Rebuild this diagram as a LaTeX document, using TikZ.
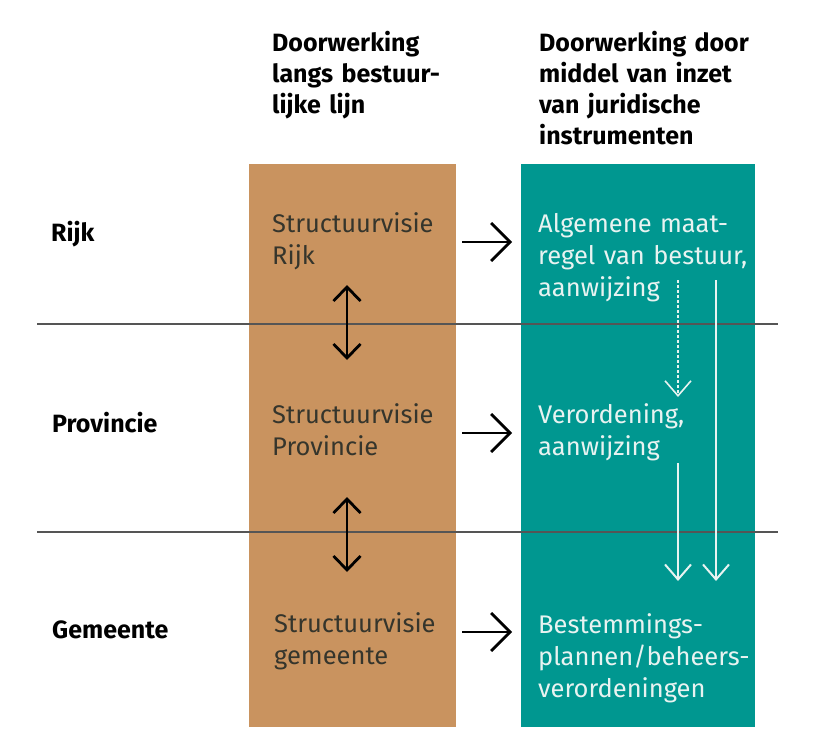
\documentclass[tikz,border=0pt]{standalone}
\usepackage{fontspec}
\setmainfont{Fira Sans}
\usetikzlibrary{arrows.meta}
\definecolor{brownbox}{HTML}{C9935F}
\definecolor{tealbox}{HTML}{009790}
\definecolor{darktext}{HTML}{35352C}
\definecolor{lighttext}{HTML}{E8F3F1}
\definecolor{rulegray}{HTML}{555555}
\begin{document}
\begin{tikzpicture}[x=1pt,y=-1pt,
  column/.style={minimum width=#1, inner sep=0, outer sep=0, draw=none},
  head/.style={anchor=base west, inner sep=0, text width=270pt, align=left,
    font=\fontsize{25}{31}\selectfont\bfseries, text=black},
  rowlab/.style={anchor=base west, inner sep=0, font=\fontsize{25}{31}\selectfont\bfseries, text=black},
  browntext/.style={anchor=base west, inner sep=0, text width=200pt, align=left,
    font=\fontsize{25.5}{32}\selectfont, text=darktext},
  tealtext/.style={anchor=base west, inner sep=0, text width=240pt, align=left,
    font=\fontsize{25.5}{32}\selectfont, text=lighttext},
  levelrule/.style={draw=rulegray, line width=1.3pt},
  vertarrow/.style={draw=black, line width=2.8pt, {Straight Barb[length=14pt,width=27pt]}-{Straight Barb[length=14pt,width=27pt]}},
  rightarrow/.style={draw=black, line width=2.8pt, -{Straight Barb[length=19pt,width=38pt]}},
  downarrow/.style={draw=lighttext, line width=2pt, -{Straight Barb[length=15pt,width=26pt]}},
]
\useasboundingbox (0,0) rectangle (814,738);
% columns
\node[column=207pt, minimum height=563pt, fill=brownbox] (bcol) at (352.5,445.5) {};
\node[column=234pt, minimum height=563pt, fill=tealbox] (tcol) at (638,445.5) {};
% headers
\node[head] (h1) at (272,52) {Doorwerking\\langs bestuur-\\lijke lijn};
\node[head] (h2) at (539,52) {Doorwerking door\\middel van inzet\\van juridische\\instrumenten};
% row labels
\node[rowlab] (rijk) at (51,242) {Rijk};
\node[rowlab] (prov) at (52,432) {Provincie};
\node[rowlab] (gem) at (52,638) {Gemeente};
% level rules
\coordinate (r1a) at (37,324); \coordinate (r1b) at (778,324);
\coordinate (r2a) at (37,532); \coordinate (r2b) at (778,532);
\draw[levelrule] (r1a) -- (r1b);
\draw[levelrule] (r2a) -- (r2b);
% brown column texts
\node[browntext] (sr) at (272,233) {Structuurvisie\\Rijk};
\node[browntext] (sp) at (272,423) {Structuurvisie\\Provincie};
\node[browntext] (sg) at (274,632) {Structuurvisie\\gemeente};
% teal column texts
\node[tealtext] (tr) at (538,233) {Algemene maat-\\regel van bestuur,\\aanwijzing};
\node[tealtext] (tp) at (538,423) {Verordening,\\aanwijzing};
\node[tealtext] (tg) at (538,633) {Bestemmings-\\plannen/beheers-\\verordeningen};
% vertical double arrows
\coordinate (v1a) at (347,285); \coordinate (v1b) at (347,360);
\coordinate (v2a) at (347,497); \coordinate (v2b) at (347,572);
\draw[vertarrow] (v1a) -- (v1b);
\draw[vertarrow] (v2a) -- (v2b);
% right arrows
\coordinate (a1a) at (462,242); \coordinate (a1b) at (512,242);
\coordinate (a2a) at (462,433); \coordinate (a2b) at (512,433);
\coordinate (a3a) at (462,632); \coordinate (a3b) at (512,632);
\draw[rightarrow] (a1a) -- (a1b);
\draw[rightarrow] (a2a) -- (a2b);
\draw[rightarrow] (a3a) -- (a3b);
% white down arrows
\coordinate (d1a) at (678,280); \coordinate (d1b) at (678,397);
\coordinate (d2a) at (716,280); \coordinate (d2b) at (716,581);
\coordinate (d3a) at (678,463); \coordinate (d3b) at (678,581);
\draw[downarrow, line width=1.6pt, dash pattern=on 3pt off 2pt] (d1a) -- (d1b);
\draw[downarrow] (d2a) -- (d2b);
\draw[downarrow] (d3a) -- (d3b);
\end{tikzpicture}
\end{document}
